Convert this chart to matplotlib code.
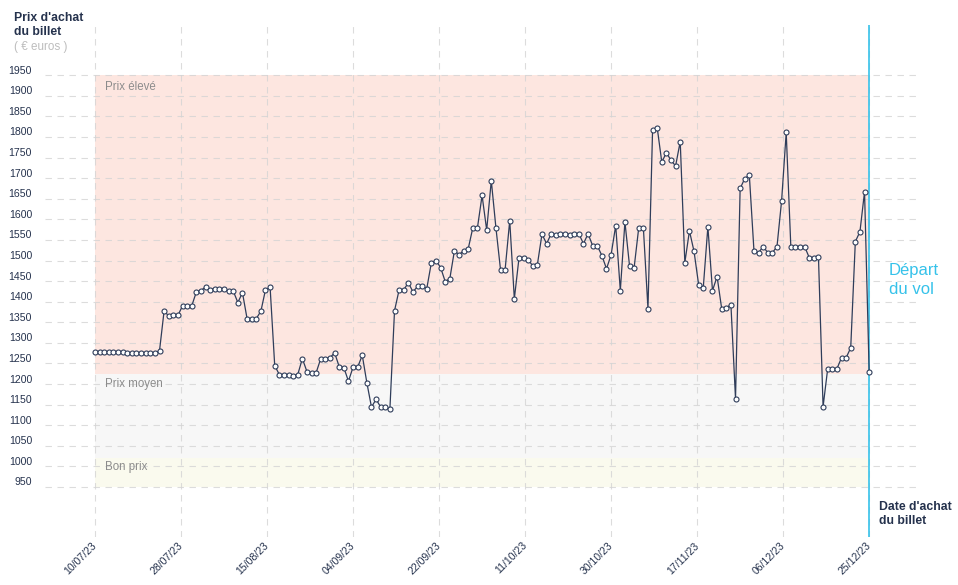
import matplotlib
matplotlib.use("Agg")
import matplotlib.pyplot as plt
import matplotlib.transforms as mtransforms
import pandas as pd

# axe des dates (un point par jour)
debut = "2023-07-10"
fin = "2023-12-25"

prix = [
    1278, 1278, 1278, 1278, 1278, 1278, 1278, 1276, 1276, 1276,
    1276, 1276, 1276, 1276, 1281, 1378, 1365, 1367, 1367, 1390,
    1390, 1390, 1424, 1427, 1436, 1429, 1432, 1432, 1432, 1426,
    1426, 1398, 1422, 1359, 1359, 1359, 1377, 1429, 1435, 1245,
    1223, 1223, 1223, 1220, 1223, 1262, 1230, 1228, 1228, 1262,
    1262, 1264, 1276, 1242, 1240, 1207, 1241, 1241, 1270, 1203,
    1144, 1163, 1144, 1144, 1140, 1378, 1429, 1429, 1446, 1424,
    1437, 1439, 1432, 1495, 1500, 1483, 1449, 1456, 1524, 1514,
    1524, 1529, 1580, 1580, 1658, 1574, 1694, 1580, 1478, 1478,
    1597, 1407, 1505, 1505, 1502, 1487, 1490, 1564, 1541, 1565,
    1563, 1565, 1565, 1563, 1565, 1565, 1541, 1565, 1536, 1536,
    1512, 1480, 1514, 1585, 1427, 1594, 1487, 1483, 1580, 1580,
    1383, 1817, 1823, 1739, 1762, 1743, 1730, 1789, 1495, 1572,
    1522, 1441, 1434, 1582, 1427, 1461, 1383, 1385, 1393, 1164,
    1675, 1699, 1707, 1524, 1519, 1534, 1519, 1519, 1534, 1645,
    1811, 1534, 1534, 1534, 1534, 1507, 1505, 1508, 1145, 1237,
    1237, 1237, 1264, 1264, 1288, 1546, 1570, 1667, 1230,
]

labels_ticks = ["10/07/23", "28/07/23", "15/08/23", "04/09/23", "22/09/23",
                "11/10/23", "30/10/23", "17/11/23", "06/12/23", "25/12/23"]

y_ticks = list(range(950, 2000, 50))

# zones de prix
zones_bas = [1225, 1020, 950]
zones_haut = [1950, 1225, 1020]
zones_couleurs = ["#fde6e0", "#f7f7f7", "#fafaee"]
zones_labels = ["Prix élevé", "Prix moyen", "Bon prix"]

NAVY = "#25324d"
CYAN = "#36c2ea"
GRIS = "#8c8c8c"

plt.rcParams["font.family"] = ["Liberation Sans", "DejaVu Sans"]

W, H = 958, 585
fig = plt.figure(figsize=(W / 100, H / 100), dpi=100)
ax = fig.add_axes([45 / W, 1 - 537 / H, 873 / W, 512 / H])

jours = pd.date_range(debut, fin, freq="D")
x0 = jours[0]
nb_jours = len(jours) - 1
ax.set_xlim(x0 - pd.Timedelta(days=10.85), x0 + pd.Timedelta(days=178.6))
ax.set_ylim(828.6, 2072)

# graduations régulièrement espacées sur la période
pos_ticks = [x0 + pd.Timedelta(days=k * nb_jours / (len(labels_ticks) - 1))
             for k in range(len(labels_ticks))]

# zones colorées
for bas, haut, coul in zip(zones_bas, zones_haut, zones_couleurs):
    ax.fill_between([jours[0], jours[-1]], bas, haut, color=coul, lw=0, zorder=0)

# grilles pointillées
dash = (0, (5.8, 5))
for v in y_ticks:
    ax.axhline(v, color="#d4d4d4", lw=0.8, ls=dash, alpha=0.8, zorder=1)
for p in pos_ticks:
    ax.axvline(p, color="#d4d4d4", lw=0.8, ls=dash, alpha=0.8, zorder=1)

# ligne du départ
ax.axvline(jours[-1], color=CYAN, lw=1.2, zorder=2)

# courbe des prix
ax.plot(jours, prix, color="#2f3d5a", lw=0.9, marker="o", markersize=3.6,
        markerfacecolor="white", markeredgecolor="#2f3d5a", markeredgewidth=0.8, zorder=3)

for s in ax.spines.values():
    s.set_visible(False)
ax.set_yticks([])
ax.set_xticks(pos_ticks)
ax.set_xticklabels(labels_ticks, rotation=45, ha="right", va="center",
                   rotation_mode="anchor", fontsize=7.6, color=NAVY)
ax.tick_params(axis="x", length=0, pad=5)

# libellés de l'axe y, légèrement au-dessus des lignes
trans = mtransforms.blended_transform_factory(ax.transAxes, ax.transData)
for v in y_ticks:
    ax.text(-13 / 873, v + 11, str(v), transform=trans, ha="right", va="center",
            fontsize=7.6, color=NAVY)

# libellés des zones
zones_y = [87, 384, 467]
for lab, yy in zip(zones_labels, zones_y):
    fig.text(105 / W, 1 - yy / H, lab, ha="left", va="center", fontsize=8.3, color=GRIS)

fig.text(14 / W, 1 - 12 / H, "Prix d'achat\ndu billet", ha="left", va="top",
         fontsize=8.8, fontweight="bold", color=NAVY)
fig.text(14 / W, 1 - 47 / H, "( € euros )", ha="left", va="center",
         fontsize=8.4, color="#bdbdbd")
fig.text(879 / W, 1 - 501 / H, "Date d'achat\ndu billet", ha="left", va="top",
         fontsize=8.8, fontweight="bold", color=NAVY)
fig.text(889 / W, 1 - 263 / H, "Départ\ndu vol", ha="left", va="top",
         fontsize=12, color=CYAN, linespacing=1.35)

fig.savefig("out.png", dpi=100)
